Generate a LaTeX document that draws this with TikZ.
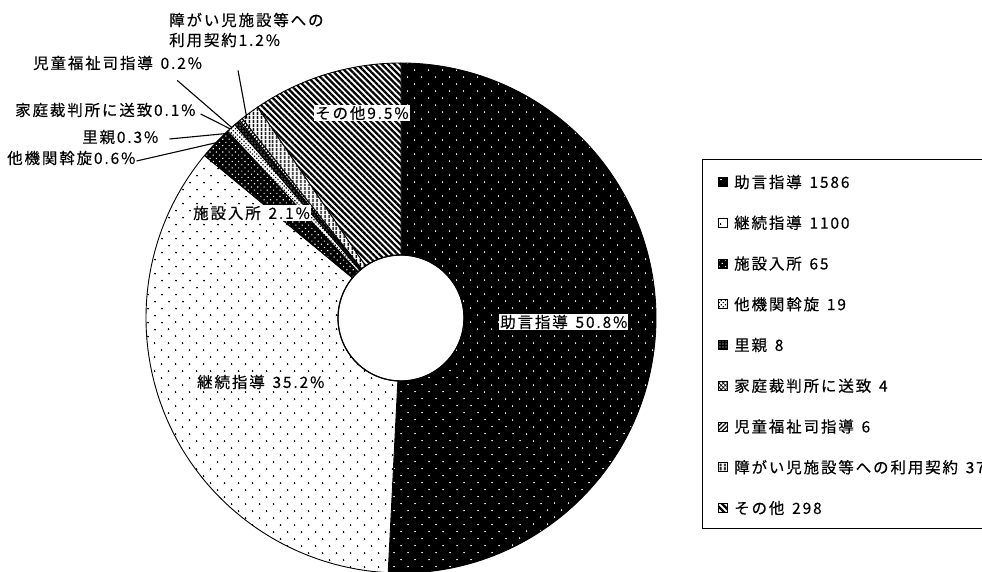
\documentclass[tikz,border=0pt]{standalone}
\usepackage{fontspec}
\setmainfont{Noto Sans CJK JP}[LetterSpace=12, FakeBold=0.35]
\usetikzlibrary{positioning, patterns, patterns.meta}
\tikzset{
    piece/.style={draw, line width=0.9pt},
    jogenfill/.style={preaction={fill=black}, pattern={Dots[radius=0.9pt, distance=10.5pt, angle=45]}, pattern color=white},
    keizokufill/.style={preaction={fill=white}, pattern={Dots[radius=1.1pt, distance=10.5pt, angle=45]}, pattern color=black},
    shisetsufill/.style={preaction={fill=black}, pattern={Dots[radius=0.8pt, distance=4.5pt, angle=45]}, pattern color=white},
    takikanfill/.style={preaction={fill=white}, pattern={Dots[radius=0.9pt, distance=3pt, angle=45]}, pattern color=black},
    satofill/.style={preaction={fill=black}, pattern={Dots[radius=0.6pt, distance=3pt]}, pattern color=white},
    kateifill/.style={preaction={fill=white}, pattern={Hatch[distance=3pt, angle=45, line width=0.8pt]}},
    jidoufill/.style={preaction={fill=white}, pattern={Lines[distance=3pt, angle=45, line width=1.2pt]}},
    shogaifill/.style={preaction={fill=white}, pattern={Lines[distance=4pt, angle=90, line width=1.9pt]}},
    sonotafill/.style={preaction={fill=white}, pattern={Lines[distance=4.4pt, angle=-45, line width=2.3pt]}},
    lbl/.style={font=\fontsize{15.5}{20}\selectfont, inner sep=1pt, anchor=west},
    boxlbl/.style={lbl, fill=white},
    legendmark/.style={draw, minimum size=9pt, inner sep=0pt, outer sep=0pt, line width=0.8pt},
    leader/.style={line width=1.1pt}
}
\newcommand{\piepart}[3]{\path[piece, #3] (#1:255) arc[start angle=#1, end angle=#2, radius=255]
    -- (#2:63) arc[start angle=#2, end angle=#1, radius=63] -- cycle;}

\begin{document}
\begin{tikzpicture}[x=1pt, y=1pt, node distance=31.75pt]
  \useasboundingbox (0,0) rectangle (982,-572);

  % donut
  \begin{scope}[shift={(401,-318)}]
    \piepart{-92.88}{90}{jogenfill}
    \piepart{140.4}{267.12}{keizokufill}
    \piepart{132.84}{140.4}{shisetsufill}
    \piepart{130.68}{132.84}{takikanfill}
    \piepart{129.6}{130.68}{satofill}
    \piepart{129.24}{129.6}{kateifill}
    \piepart{128.52}{129.24}{jidoufill}
    \piepart{124.2}{128.52}{shogaifill}
    \piepart{90}{124.2}{sonotafill}
    \draw[line width=1.2pt] (0,0) circle[radius=63];
    \path (136.6:255) coordinate (pTakikan);
    \path (133.7:255) coordinate (pSato);
    \path (132.1:255) coordinate (pKatei);
    \path (131.6:254) coordinate (pJidou);
    \path (127.7:252) coordinate (pShogai);
  \end{scope}

  % labels in the chart
  \node(lblJogen)[boxlbl] at (499,-322) {助言指導\enspace 50.8\%};
  \node(lblKeizoku)[boxlbl] at (196,-382) {継続指導\enspace 35.2\%};
  \node(lblShisetsu)[boxlbl] at (192,-213) {施設入所\enspace 2.1\%};
  \node(lblSonota)[boxlbl] at (314,-113) {その他9.5\%};

  % labels outside
  \node(lblShogai)[lbl, align=left] at (168,-30) {障がい児施設等への\\利用契約1.2\%};
  \node(lblJidou)[lbl] at (32,-63) {児童福祉司指導\enspace 0.2\%};
  \node(lblKatei)[lbl] at (14,-110) {家庭裁判所に送致0.1\%};
  \node(lblSato)[lbl] at (81,-137) {里親0.3\%};
  \node(lblTakikan)[lbl] at (6,-158) {他機関斡旋0.6\%};

  \draw[leader]([shift={(70pt,-22pt)}]lblShogai.south west)--(pShogai);
  \draw[leader]([shift={(-26pt,-9pt)}]lblJidou.south east)--(pJidou);
  \draw[leader]([shift={(4pt,-4pt)}]lblKatei.east)--(pKatei);
  \draw[leader]([xshift=10pt, yshift=-2pt]lblSato.east)--(pSato);
  \draw[leader]([yshift=-3pt]lblTakikan.east)--(pTakikan);

  % legend
  \draw[line width=0.9pt] (702,-159) rectangle (1000,-528);
  \node(m1)[legendmark, jogenfill] at (722.5,-182) {};
  \node(m2)[legendmark, keizokufill, below=of m1] {};
  \node(m3)[legendmark, shisetsufill, below=of m2] {};
  \node(m4)[legendmark, takikanfill, below=of m3] {};
  \node(m5)[legendmark, satofill, below=of m4] {};
  \node(m6)[legendmark, kateifill, below=of m5] {};
  \node(m7)[legendmark, jidoufill, below=of m6] {};
  \node(m8)[legendmark, shogaifill, below=of m7] {};
  \node(m9)[legendmark, sonotafill, below=of m8] {};

  \node(t1)[lbl, right=6pt of m1] {助言指導\enspace 1586};
  \node(t2)[lbl, right=6pt of m2] {継続指導\enspace 1100};
  \node(t3)[lbl, right=6pt of m3] {施設入所\enspace 65};
  \node(t4)[lbl, right=6pt of m4] {他機関斡旋\enspace 19};
  \node(t5)[lbl, right=6pt of m5] {里親\enspace 8};
  \node(t6)[lbl, right=6pt of m6] {家庭裁判所に送致\enspace 4};
  \node(t7)[lbl, right=6pt of m7] {児童福祉司指導\enspace 6};
  \node(t8)[lbl, right=6pt of m8] {障がい児施設等への利用契約\enspace 37};
  \node(t9)[lbl, right=6pt of m9] {その他\enspace 298};

\end{tikzpicture}
\end{document}
